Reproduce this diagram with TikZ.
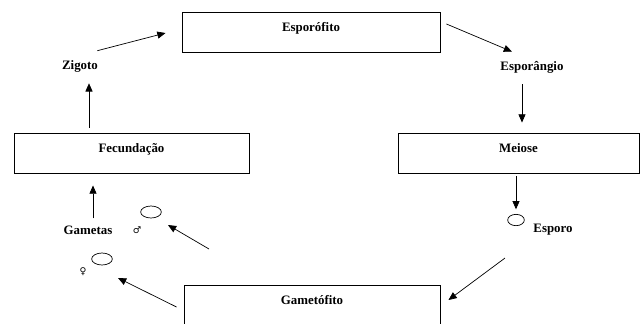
\documentclass[tikz,border=0pt]{standalone}
\usepackage{fontspec}
\setmainfont{Liberation Serif}
\newfontfamily\symfont{DejaVu Sans}
\usetikzlibrary{arrows.meta,shapes.geometric}

\begin{document}
\begin{tikzpicture}[
  x=0.03cm, y=-0.03cm,
  font=\fontsize{11}{13}\selectfont\bfseries,
  box/.style={draw, line width=0.8pt, minimum height=1.2cm,
              text height=8pt, text depth=9.5pt, inner sep=0pt},
  lbl/.style={inner sep=1pt},
  sym/.style={font=\fontsize{8}{9}\selectfont\symfont, inner sep=0pt},
  cell/.style={draw, ellipse, line width=0.6pt, inner sep=0pt,
               minimum width=0.62cm, minimum height=0.36cm},
  arr/.style={-{Triangle[length=7pt,width=6pt]}, line width=0.6pt},
]
  \useasboundingbox (0,0) rectangle (644,323);

  % Stages (boxes)
  \node[box, minimum width=7.74cm] (esp) at (311,32)  {Esporófito};
  \node[box, minimum width=7.05cm] (fec) at (131.5,153) {Fecundação};
  \node[box, minimum width=7.23cm] (mei) at (518.5,153) {Meiose};
  \node[box, minimum width=7.68cm] (gam) at (312,305) {Gametófito};

  % Labels
  \node[lbl] (zig)  at (80,66)  {Zigoto};
  \node[lbl] (espg) at (532,67) {Esporângio};
  \node[lbl] (gmt)  at (88,230) {Gametas};
  \node[lbl, anchor=west] (espol) at (532,230) {Esporo};

  % Cells
  \node[cell, minimum width=0.5cm, minimum height=0.34cm] (espo) at (516,220) {};
  \node[cell] (mas) at (151,212) {};
  \node[cell] (fem) at (102,259) {};
  \node[sym] (masl) at (137,230) {♂};
  \node[sym] (feml) at (83,272)  {♀};

  \coordinate (gfree) at (209,249);

  % Cycle arrows
  \draw[arr] ([shift={(-2,-8)}]zig.north east) -- ([shift={(-16,1)}]esp.west);
  \draw[arr] ([shift={(6,-8)}]esp.east) -- ([shift={(-20,-8)}]espg.north);
  \draw[arr, shorten <=0.3cm, shorten >=0.3cm]
    ([xshift=-0.3cm]espg.south) -- ([xshift=-0.3cm]espg.south |- mei.north);
  \draw[arr, shorten <=2pt, shorten >=4pt] (mei.south -| espo.north) -- (espo.north);
  \draw[arr] ([shift={(-11,32)}]espo.south) -- ([shift={(8,-5)}]gam.east);
  \draw[arr] ([shift={(-7,2)}]gam.west) -- ([shift={(16,19)}]fem.center);
  \draw[arr] (gfree) -- ([shift={(17,13)}]mas.center);
  \draw[arr, shorten <=0.18cm, shorten >=0.36cm]
    ([xshift=0.15cm]gmt.north) -- ([xshift=0.15cm]gmt.north |- fec.south);
  \draw[arr, shorten <=0.15cm, shorten >=0.3cm]
    ([xshift=0.27cm]zig.south |- fec.north) -- ([xshift=0.27cm]zig.south);

\end{tikzpicture}
\end{document}
